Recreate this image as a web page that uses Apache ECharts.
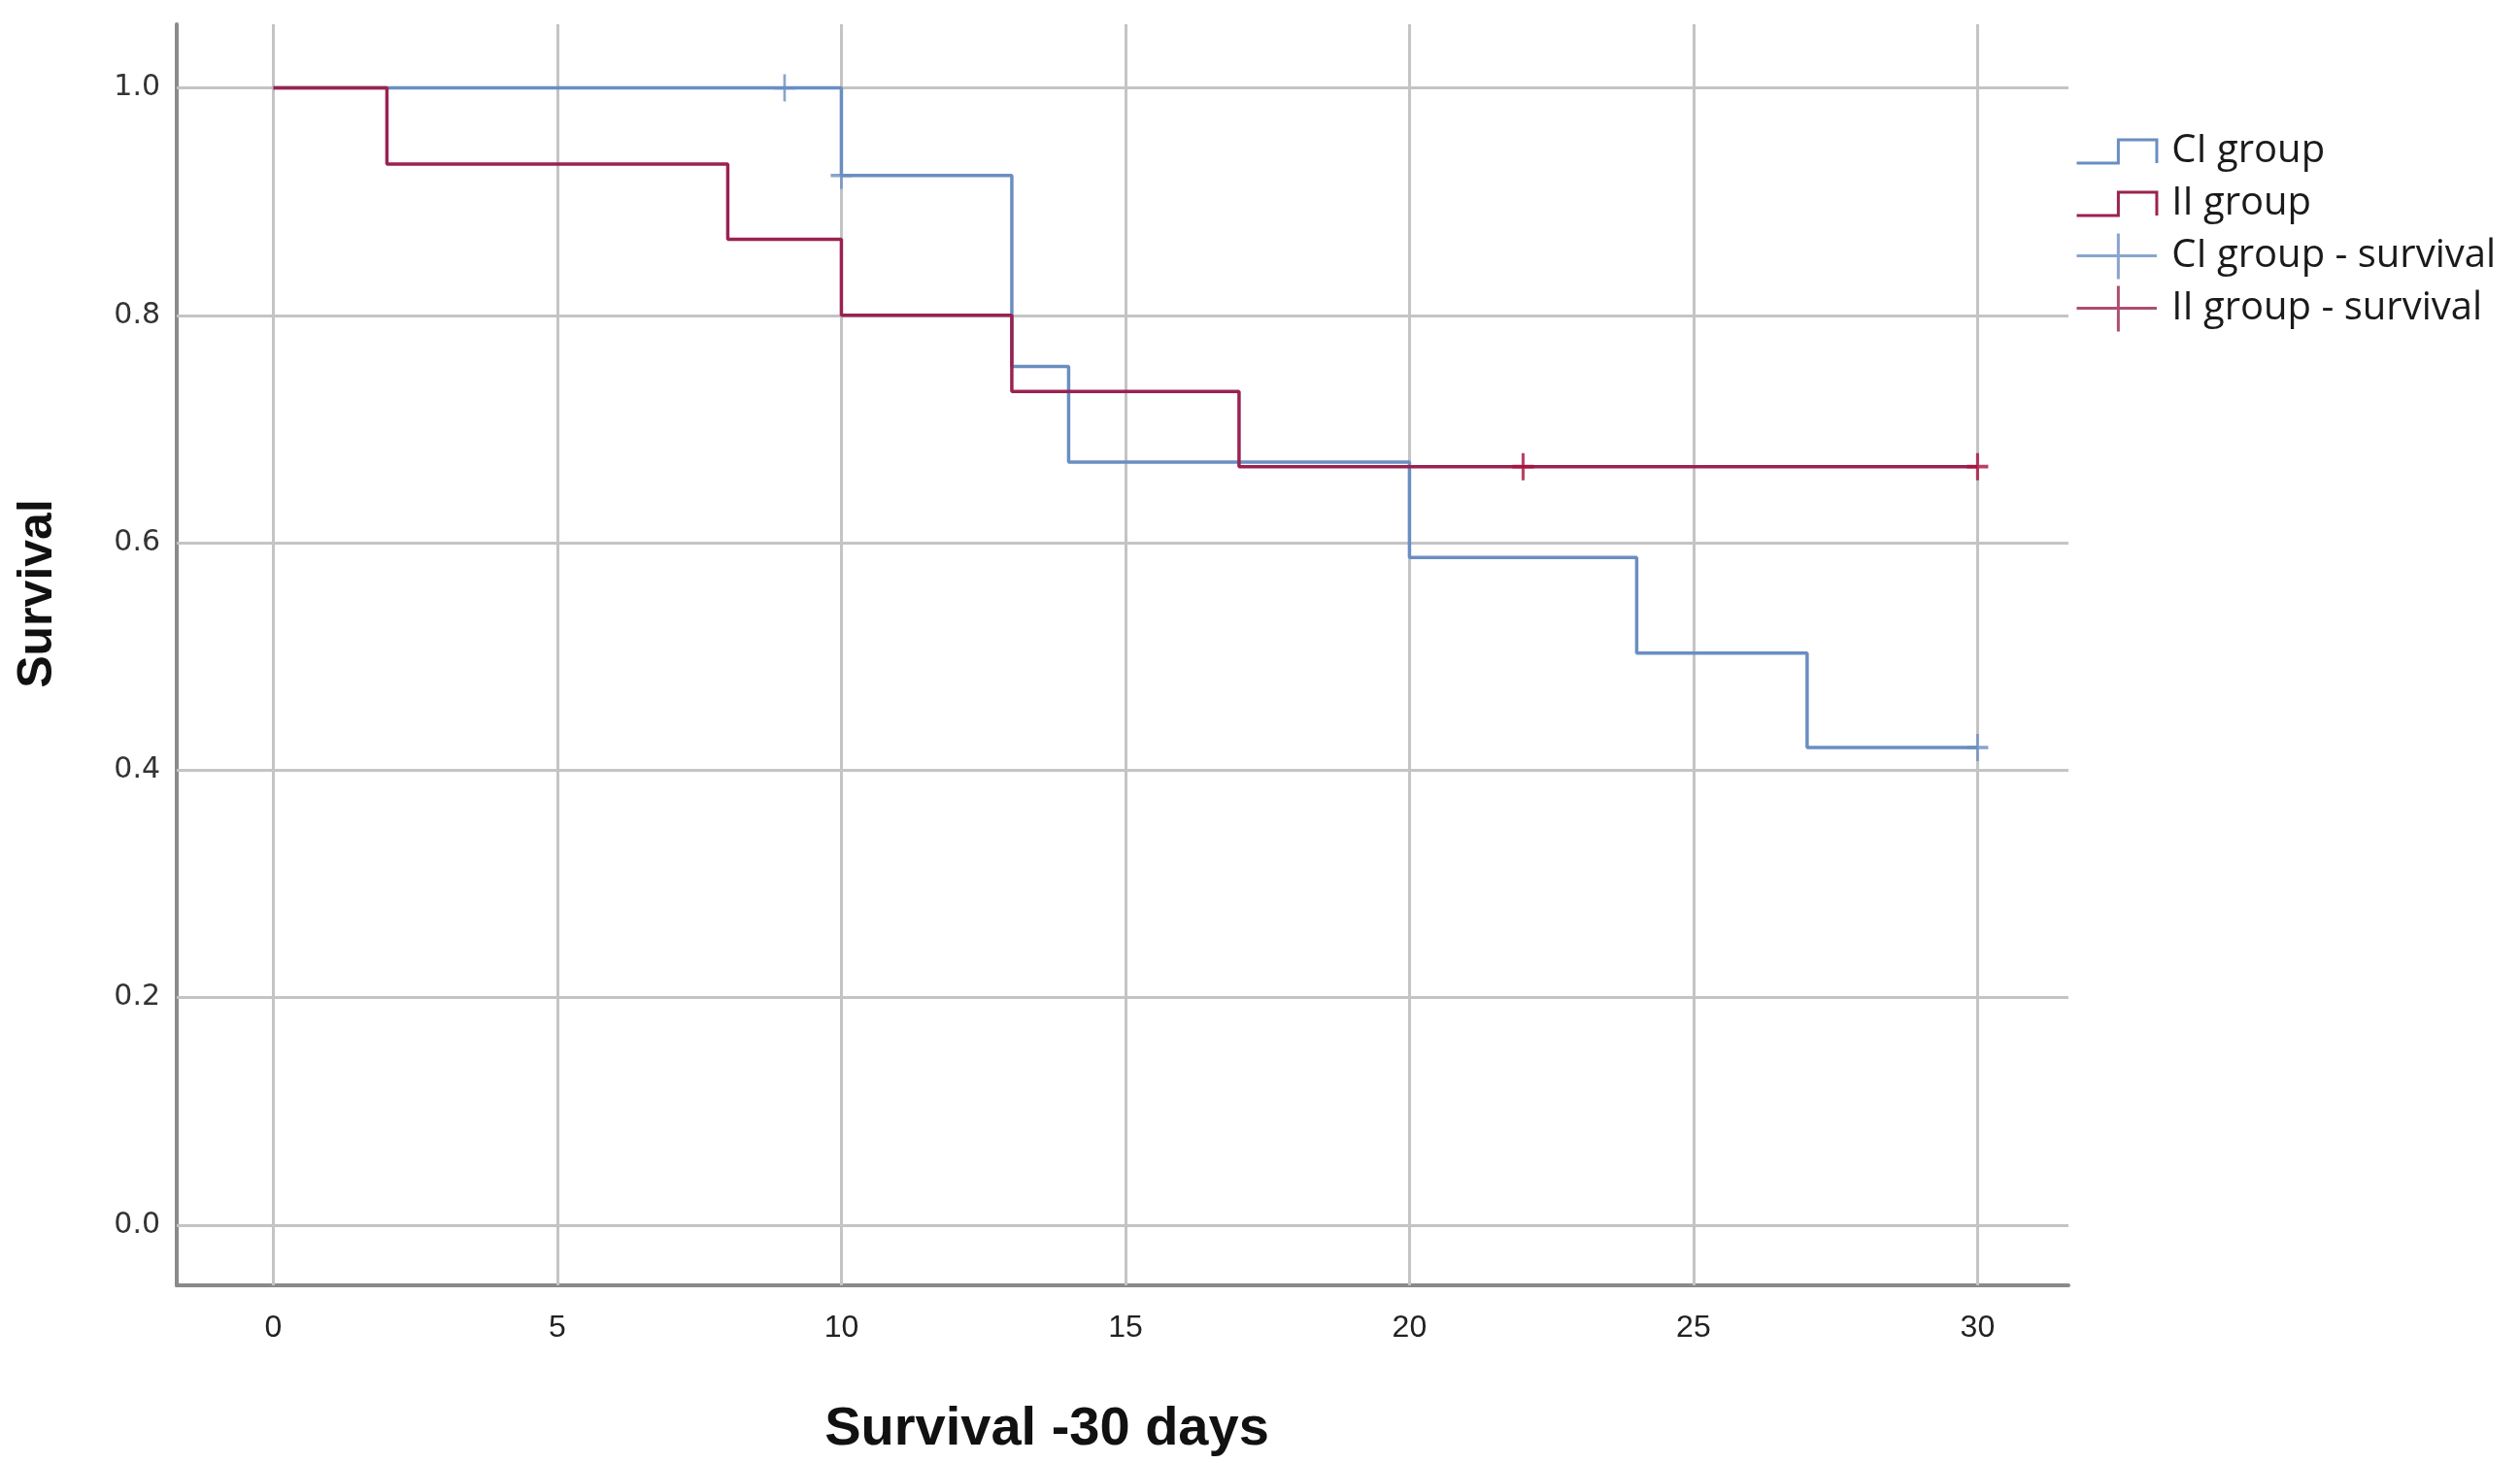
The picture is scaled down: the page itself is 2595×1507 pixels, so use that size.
<!DOCTYPE html>
<html>
<head>
<meta charset="utf-8">
<script src="https://cdn.jsdelivr.net/npm/echarts@6/dist/echarts.min.js"></script>
<style>
html,body{margin:0;padding:0;background:#fff;}
#chart{width:2595px;height:1507px;}
</style>
</head>
<body>
<div id="chart"></div>
<script>
// ---- data ----
const xTicks = [0, 5, 10, 15, 20, 25, 30];
const yTicks = [0, 0.2, 0.4, 0.6, 0.8, 1.0];

const ciTimes = [0, 10, 13, 14, 20, 24, 27, 30];
const ciSurv  = [1.0, 0.923, 0.755, 0.671, 0.587, 0.503, 0.420, 0.420];

const iiTimes = [0, 2, 8, 10, 13, 17, 30];
const iiSurv  = [1.0, 0.933, 0.867, 0.800, 0.733, 0.667, 0.667];

const ciCensTimes = [9, 10, 30];
const ciCensSurv  = [1.0, 0.923, 0.420];

const iiCensTimes = [22, 30];
const iiCensSurv  = [0.667, 0.667];

const seriesNames = ['CI group', 'II group', 'CI group - survival', 'II group - survival'];
const xTitle = 'Survival -30 days';
const yTitle = 'Survival';

// ---- styles ----
const BLUE = '#6a8ec2';
const RED = '#9a2250';
const RED_MARK = '#a8123f';
const GRID = '#c4c4c4';
const AXIS = '#8a8a8a';

const zip = (a, b) => a.map((v, i) => [v, b[i]]);
const stepIcon = 'path://M0,0M0,43L52,43L52,14L100,14L100,43M100,57';
const crossIcon = 'path://M0,28L100,28M52,0L52,57';
const censorSymbol = 'path://M0,5L10,5M5,0L5,10';

const chart = echarts.init(document.getElementById('chart'), null, {renderer: 'canvas'});

const option = {
  animation: false,
  backgroundColor: '#ffffff',
  grid: {left: 182, right: 465, top: 25, bottom: 183, containLabel: false},
  xAxis: {
    type: 'value',
    min: -1.7,
    max: 31.6,
    name: xTitle,
    nameLocation: 'middle',
    nameGap: 121,
    nameTextStyle: {fontFamily: 'Liberation Sans', fontWeight: 'bold', fontSize: 56, color: '#111', padding: [0, 156, 0, 0]},
    axisLine: {show: true, onZero: false, lineStyle: {color: AXIS, width: 4}},
    axisTick: {show: false, customValues: xTicks},
    axisLabel: {customValues: xTicks, margin: 28, fontFamily: 'Liberation Sans', fontSize: 32, color: '#222'},
    splitLine: {show: false}
  },
  yAxis: {
    type: 'value',
    min: -0.053,
    max: 1.056,
    name: yTitle,
    nameLocation: 'middle',
    nameGap: 118,
    nameRotate: 90,
    nameTextStyle: {fontFamily: 'Liberation Sans', fontWeight: 'bold', fontSize: 50, color: '#111', padding: [0, 0, 0, 126]},
    axisLine: {show: true, onZero: false, lineStyle: {color: AXIS, width: 4}},
    axisTick: {show: false, customValues: yTicks},
    axisLabel: {customValues: yTicks, margin: 17, fontFamily: 'DejaVu Sans', fontSize: 30, color: '#333',
      formatter: v => Number(v).toFixed(1)},
    splitLine: {show: false}
  },
  legend: {
    orient: 'vertical',
    left: 2132,
    top: 126,
    itemWidth: 83,
    itemHeight: 47,
    itemGap: 4,
    symbolKeepAspect: true,
    textStyle: {fontFamily: 'Open Sans', fontSize: 40, color: '#1a1a1a', padding: [0, 0, 0, 10]},
    data: [
      {name: seriesNames[0], icon: stepIcon, itemStyle: {color: 'rgba(0,0,0,0)', borderColor: BLUE, borderWidth: 3}},
      {name: seriesNames[1], icon: stepIcon, itemStyle: {color: 'rgba(0,0,0,0)', borderColor: RED, borderWidth: 3}},
      {name: seriesNames[2], icon: crossIcon, itemStyle: {color: 'rgba(0,0,0,0)', borderColor: BLUE, borderWidth: 3}},
      {name: seriesNames[3], icon: crossIcon, itemStyle: {color: 'rgba(0,0,0,0)', borderColor: RED, borderWidth: 3}}
    ]
  },
  series: [
    {
      name: '_grid',
      type: 'line',
      z: 0,
      data: [[0, 0]],
      symbol: 'none',
      lineStyle: {width: 0, opacity: 0},
      silent: true,
      markLine: {
        z: 1,
        silent: true,
        symbol: 'none',
        label: {show: false},
        lineStyle: {color: GRID, width: 3, type: 'solid'},
        data: xTicks.map(v => ({xAxis: v})).concat(yTicks.map(v => ({yAxis: v})))
      }
    },
    {
      name: seriesNames[0],
      type: 'line',
      step: 'end',
      z: 3,
      data: zip(ciTimes, ciSurv),
      symbol: 'none',
      color: BLUE,
      lineStyle: {color: BLUE, width: 3.5}
    },
    {
      name: seriesNames[1],
      type: 'line',
      step: 'end',
      z: 4,
      data: zip(iiTimes, iiSurv),
      symbol: 'none',
      color: RED,
      lineStyle: {color: RED, width: 3.5}
    },
    {
      name: seriesNames[2],
      type: 'scatter',
      z: 5,
      data: zip(ciCensTimes, ciCensSurv),
      symbol: censorSymbol,
      symbolSize: [22, 28],
      color: BLUE,
      itemStyle: {color: 'rgba(0,0,0,0)', borderColor: BLUE, borderWidth: 3}
    },
    {
      name: seriesNames[3],
      type: 'scatter',
      z: 6,
      data: zip(iiCensTimes, iiCensSurv),
      symbol: censorSymbol,
      symbolSize: [22, 28],
      color: RED_MARK,
      itemStyle: {color: 'rgba(0,0,0,0)', borderColor: RED_MARK, borderWidth: 3.5}
    }
  ]
};
chart.setOption(option);
</script>
</body>
</html>
